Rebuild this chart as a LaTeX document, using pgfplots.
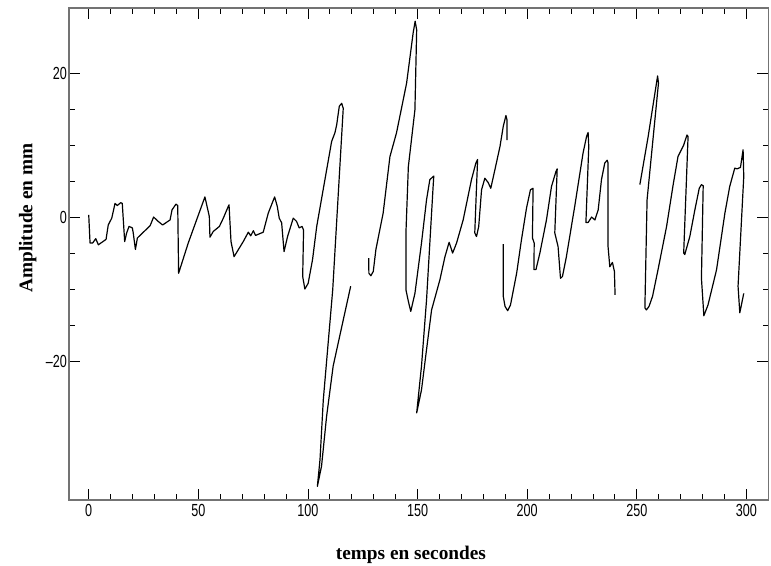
\documentclass[border=0pt]{standalone}
\usepackage{fontspec}
\setmainfont{Liberation Serif}
\newfontfamily\tickfont{Liberation Sans}
\usepackage{graphicx}
\usepackage{pgfplots}
\pgfplotsset{compat=1.18}
\newcommand\tl[1]{\scalebox{0.72}[1]{#1}}
\begin{document}
\begin{tikzpicture}
\useasboundingbox (0,0) rectangle (771bp,566bp);
\begin{axis}[
  at={(69bp,66bp)}, anchor=south west,
  scale only axis, width=699.3bp, height=491.7bp,
  xmin=-9, xmax=310, ymin=-39.3, ymax=29,
  axis x line*=box, axis y line*=box,
  x axis line style={black, line width=0.9bp},
  y axis line style={black!55, line width=1.6bp},
  xtick={0,50,100,150,200,250,300},
  xticklabels={\tl{0},\tl{50},\tl{100},\tl{150},\tl{200},\tl{250},\tl{300}},
  ytick={-20,0,20},
  yticklabels={\tl{–20},\tl{0},\tl{20}},
  minor x tick num=4, minor y tick num=3,
  tick align=inside,
  major tick length=11bp, minor tick length=5.5bp,
  every tick/.style={black, line width=0.8bp},
  xticklabel style={font=\fontsize{17.5bp}{20bp}\selectfont\tickfont, anchor=north, inner sep=0pt, yshift=-4bp},
  yticklabel style={font=\fontsize{17.5bp}{20bp}\selectfont\tickfont, anchor=east, inner sep=0pt, xshift=-2bp},
  xlabel={temps en secondes},
  ylabel={Amplitude en mm},
  every axis x label/.style={at={(axis description cs:0.489,-0.12)}, anchor=base, font=\fontsize{19.3bp}{22bp}\selectfont\bfseries},
  every axis y label/.style={at={(axis description cs:-0.0525,0.5735)}, rotate=90, anchor=base, font=\fontsize{19.3bp}{22bp}\selectfont\bfseries},
]
\addplot[black, line width=1.2bp, line join=round, no marks] coordinates {
(0,0.3)(0.6,-3.6)(1.8,-3.6)(3.2,-3.0)(4.4,-3.85)(7.9,-3.1)(8.9,-1.1)(10.5,-0.15)(12.0,1.9)(13.0,1.6)(14.6,2.0)(15.3,1.9)(16.4,-3.4)(17.3,-2.2)(18.4,-1.3)(19.9,-1.5)(20.3,-2.2)(21.3,-4.5)(22.2,-2.9)(28.0,-1.2)(29.6,0)(31.7,-0.6)(33.7,-1.1)(37.1,-0.4)(38.0,1.0)(39.8,1.8)(40.6,1.6)(41.0,-7.8)(45.4,-3.6)(53.0,2.8)(55.0,0.1)(55.3,-2.8)(56.8,-2.0)(59.6,-1.3)(61.4,-0.15)(63.4,1.3)(64.0,1.7)(64.9,-3.4)(66.3,-5.5)(70.5,-3.4)(72.8,-2.1)(73.9,-2.6)(75.1,-1.9)(76.1,-2.55)(79.6,-2.1)(81.9,0.55)(84.8,2.8)(86.0,1.5)(86.9,-0.15)(88.0,-0.8)(89.1,-4.8)(90.7,-2.7)(93.3,-0.15)(94.8,-0.6)(96.0,-1.5)(97.3,-1.3)(98.0,-1.8)(97.6,-8.25)(98.6,-10.0)(100.1,-9.2)(102.1,-5.9)(104.0,-1.3)(110.8,10.5)(112.3,11.7)(113.1,12.8)(114.3,15.4)(115.4,15.8)(116.1,15.1)(111.3,-10.1)(107.0,-25.4)(105.5,-33.7)(104.3,-37.4)(106.2,-34.6)(108.5,-27.7)(111.5,-20.7)(116.1,-14.3)(119.5,-9.6)
};
\addplot[black, line width=1.2bp, line join=round, no marks] coordinates {
(127.7,-5.7)(127.8,-7.8)(128.7,-8.15)(129.8,-7.55)(131.0,-4.5)(134.3,0.55)(137.4,8.4)(140.4,11.7)(145.0,18.6)(148.0,25.6)(148.9,27.2)(149.6,26.0)(148.8,14.9)(145.8,7.0)(144.7,-2.2)(144.7,-10.1)(145.8,-11.7)(146.9,-13.1)(148.8,-10.6)(151.8,-3.6)(154.1,2.4)(155.6,5.2)(157.4,5.7)(157.1,4.25)(154.1,-11.5)(151.8,-20.7)(149.6,-27.2)(151.8,-24.0)(154.1,-18.4)(156.4,-12.9)(160.2,-8.7)(162.5,-5.5)(164.4,-3.5)(166.0,-5.0)(167.8,-3.6)(170.8,-0.4)(174.6,5.2)(176.6,7.5)(177.4,8.0)(176.9,4.25)(176.1,-2.2)(176.9,-2.7)(177.9,-1.3)(179.2,3.8)(180.7,5.4)(182.2,4.8)(183.4,4.0)(185.3,6.6)(187.6,9.8)(189.1,12.6)(190.3,14.1)(190.8,13.5)(190.8,10.7)
};
\addplot[black, line width=1.2bp, line join=round, no marks] coordinates {
(189.1,-3.75)(189.1,-11.0)(189.9,-12.4)(191.1,-13.0)(192.4,-12.2)(195.2,-7.8)(197.4,-3.15)(199.7,1.25)(201.5,3.8)(202.7,4.0)(202.4,-2.9)(203.2,-3.6)(203.1,-7.3)(204.0,-7.3)(205.8,-5.0)(208.8,-0.4)(211.1,4.25)(213.1,6.3)(213.7,6.7)(212.6,-2.2)(214.1,-4.1)(215.2,-8.5)(216.1,-8.25)(217.9,-5.5)(221.7,1.5)(225.5,8.9)(227.1,11.2)(227.8,11.75)(228.1,9.8)(226.8,-0.75)(227.8,-0.75)(229.4,0)(230.9,-0.4)(232.4,1.0)(233.9,5.2)(235.4,7.5)(236.5,7.9)(236.9,7.5)(236.9,-4.1)(237.7,-6.9)(238.9,-6.3)(239.8,-7.55)(240.1,-10.8)
};
\addplot[black, line width=1.2bp, line join=round, no marks] coordinates {
(251.4,4.5)(255.2,11.2)(259.5,19.6)(259.9,18.6)(254.7,2.4)(253.7,-12.6)(254.4,-12.9)(255.6,-12.4)(257.2,-11.0)(259.7,-7.3)(263.6,-1.3)(266.6,4.5)(268.8,8.4)(271.4,10.0)(272.9,11.4)(273.4,11.2)(271.4,-5.0)(271.9,-5.2)(274.2,-2.7)(276.5,1.0)(278.5,4.0)(279.5,4.5)(280.3,4.35)(279.5,-8.5)(280.6,-13.7)(282.5,-12.2)(286.4,-7.3)(290.2,0.55)(292.4,4.25)(294.7,6.8)(295.8,6.7)(297.3,6.9)(298.5,9.35)(298.8,5.6)(296.2,-9.6)(297.0,-13.3)(298.8,-10.6)
};
\end{axis}
\end{tikzpicture}
\end{document}
